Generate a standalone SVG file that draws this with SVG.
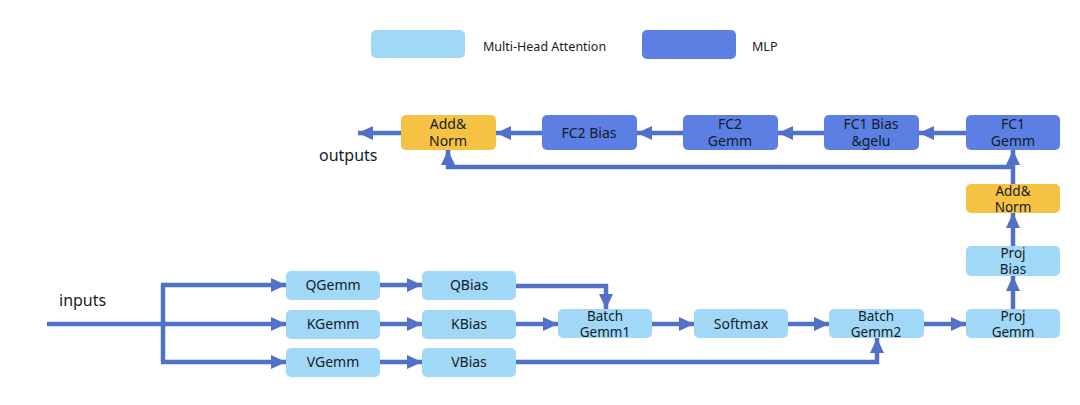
<svg xmlns="http://www.w3.org/2000/svg" width="1080" height="405" viewBox="0 0 1080 405">
<defs>
<style>
.mha{fill:#a2d8f7;}
.mlp{fill:#5b7fe2;}
.an{fill:#f5c243;}
text{font-family:"Noto Sans","Open Sans","Liberation Sans",sans-serif;font-size:14px;fill:#141c28;text-anchor:middle;}
.lg{font-size:12.5px;text-anchor:start;}
.io{font-size:16px;text-anchor:start;}
.t2{font-size:13.5px;}
.c{fill:none;stroke:#5170c8;stroke-width:4.5;marker-end:url(#ah);}
.cn{fill:none;stroke:#5170c8;stroke-width:4.5;}
</style>
<marker id="ah" markerUnits="userSpaceOnUse" markerWidth="16" markerHeight="16" viewBox="0 0 16 16" refX="15" refY="8" orient="auto">
<path d="M0,1 L15,8 L0,15 z" fill="#5170c8"/>
</marker>
</defs>
<rect width="1080" height="405" fill="#ffffff"/>
<g id="legend">
<rect class="mha" x="371" y="30" width="94" height="28" rx="5"/>
<text class="lg" x="483" y="51">Multi-Head Attention</text>
<rect class="mlp" x="642" y="30" width="94" height="29" rx="5"/>
<text class="lg" x="752" y="51">MLP</text>
</g>
<g id="labels">
<text class="io" x="59" y="306">inputs</text>
<text class="io" x="319" y="161">outputs</text>
</g>
<g id="connectors">
<path class="cn" d="M163,285 V362"/>
<path class="c" d="M47,324 H286"/>
<path class="c" d="M161,285 H286"/>
<path class="c" d="M161,362 H286"/>
<path class="c" d="M380,285 H422"/>
<path class="c" d="M380,324 H422"/>
<path class="c" d="M380,362 H422"/>
<path class="c" d="M516,286 H606 V309"/>
<path class="c" d="M516,324 H558"/>
<path class="c" d="M516,362 H877 V338"/>
<path class="c" d="M652,324 H694"/>
<path class="c" d="M788,324 H829"/>
<path class="c" d="M924,324 H966"/>
<path class="c" d="M1013,309 V276"/>
<path class="c" d="M1013,246 V213"/>
<path class="c" d="M1013,184 V150"/>
<path class="c" d="M1013,167 H448 V150"/>
<path class="c" d="M966,133 H919"/>
<path class="c" d="M824,133 H778"/>
<path class="c" d="M683,133 H637"/>
<path class="c" d="M542,133 H496"/>
<path class="c" d="M401,133 H358"/>
</g>
<g id="qgemm"><rect class="mha" x="286" y="271" width="94" height="29" rx="5"/><text x="333" y="290">QGemm</text></g>
<g id="kgemm"><rect class="mha" x="286" y="310" width="94" height="29" rx="5"/><text x="333" y="329">KGemm</text></g>
<g id="vgemm"><rect class="mha" x="286" y="348" width="94" height="29" rx="5"/><text x="333" y="367">VGemm</text></g>
<g id="qbias"><rect class="mha" x="422" y="271" width="94" height="29" rx="5"/><text x="469" y="290">QBias</text></g>
<g id="kbias"><rect class="mha" x="422" y="310" width="94" height="29" rx="5"/><text x="469" y="329">KBias</text></g>
<g id="vbias"><rect class="mha" x="422" y="348" width="94" height="29" rx="5"/><text x="469" y="367">VBias</text></g>
<g id="batchgemm1"><rect class="mha" x="558" y="309" width="94" height="29" rx="5"/><text class="t2" x="605" y="321">Batch</text><text class="t2" x="605" y="337">Gemm1</text></g>
<g id="softmax"><rect class="mha" x="694" y="309" width="94" height="29" rx="5"/><text x="741" y="329">Softmax</text></g>
<g id="batchgemm2"><rect class="mha" x="829" y="309" width="95" height="29" rx="5"/><text class="t2" x="876" y="321">Batch</text><text class="t2" x="876" y="337">Gemm2</text></g>
<g id="projgemm"><rect class="mha" x="966" y="309" width="94" height="29" rx="5"/><text class="t2" x="1013" y="321">Proj</text><text class="t2" x="1013" y="337">Gemm</text></g>
<g id="projbias"><rect class="mha" x="966" y="246" width="94" height="30" rx="5"/><text class="t2" x="1013" y="258">Proj</text><text class="t2" x="1013" y="274">Bias</text></g>
<g id="addnorm1"><rect class="an" x="966" y="184" width="94" height="29" rx="5"/><text class="t2" x="1013" y="196">Add&amp;</text><text class="t2" x="1013" y="212">Norm</text></g>
<g id="fc1gemm"><rect class="mlp" x="966" y="115" width="94" height="35" rx="5"/><text x="1013" y="129">FC1</text><text x="1013" y="146">Gemm</text></g>
<g id="fc1bias"><rect class="mlp" x="824" y="115" width="95" height="35" rx="5"/><text x="871" y="129">FC1 Bias</text><text x="871" y="146">&amp;gelu</text></g>
<g id="fc2gemm"><rect class="mlp" x="683" y="115" width="95" height="35" rx="5"/><text x="730" y="129">FC2</text><text x="730" y="146">Gemm</text></g>
<g id="fc2bias"><rect class="mlp" x="542" y="115" width="95" height="35" rx="5"/><text x="589" y="138">FC2 Bias</text></g>
<g id="addnorm2"><rect class="an" x="401" y="115" width="95" height="35" rx="5"/><text x="448" y="129">Add&amp;</text><text x="448" y="146">Norm</text></g>
</svg>
